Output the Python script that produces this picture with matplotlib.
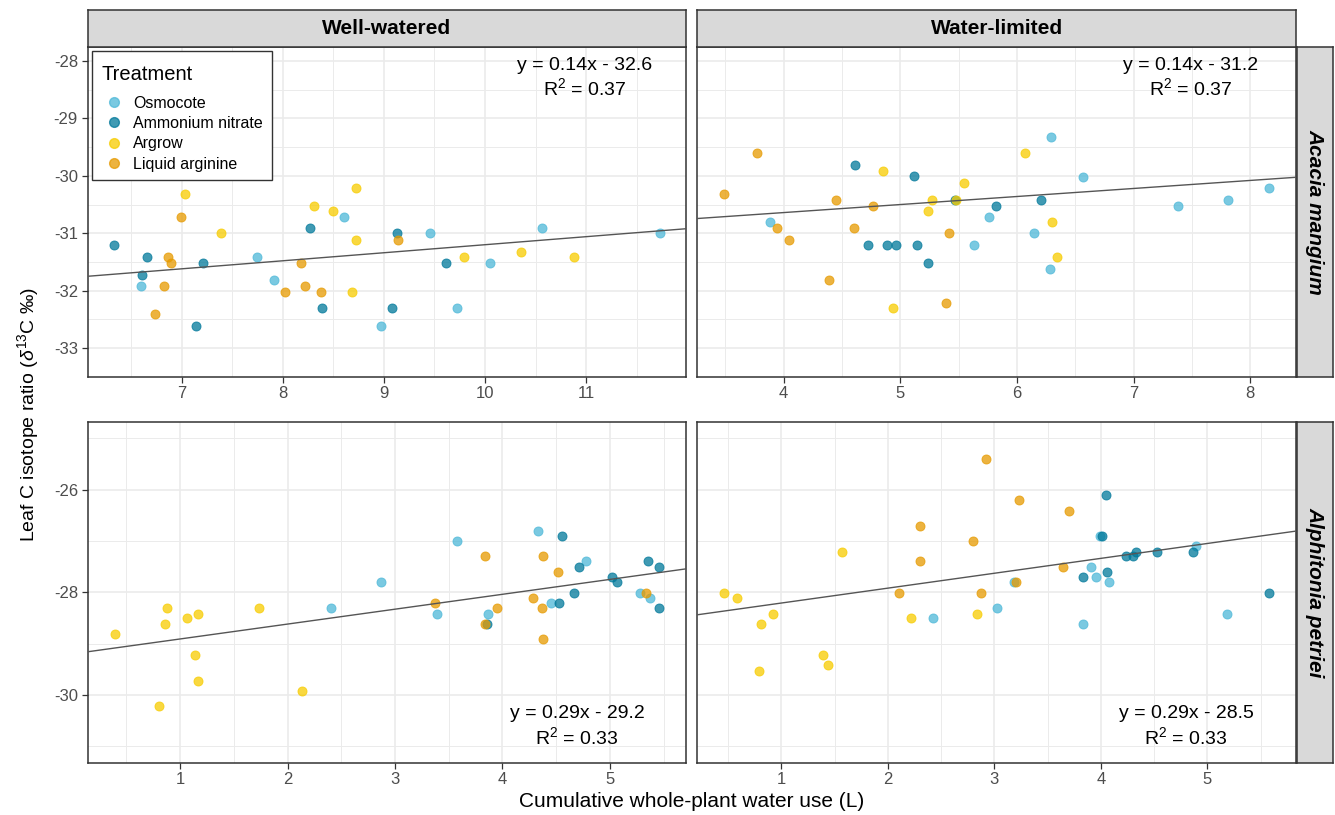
import matplotlib
matplotlib.use("Agg")
from matplotlib import pyplot as plt
from matplotlib.lines import Line2D
from matplotlib.offsetbox import VPacker, DrawingArea
import numpy as np

plt.rcParams['font.family'] = ['Liberation Sans', 'DejaVu Sans']
plt.rcParams['mathtext.fontset'] = 'custom'
plt.rcParams['mathtext.rm'] = 'Liberation Sans'
plt.rcParams['mathtext.it'] = 'Liberation Sans:italic'
plt.rcParams['axes.unicode_minus'] = False

treatments = ['Osmocote', 'Ammonium nitrate', 'Argrow', 'Liquid arginine']
colors = ['#4DB8D8', '#00789A', '#F7CC00', '#E69A00']

columns = ['Well-watered', 'Water-limited']
species = ['Acacia mangium', 'Alphitonia petriei']

# treatment index: 0 Osmocote, 1 Ammonium nitrate, 2 Argrow, 3 Liquid arginine
# Acacia, well-watered
am_ww_x = [6.60, 7.74, 7.91, 8.61, 8.97, 9.46, 9.72, 10.05, 10.56, 11.73,
           6.33, 6.66, 6.61, 7.21, 7.14, 8.27, 8.39, 9.13, 9.08, 9.61,
           7.03, 7.39, 8.31, 8.50, 8.72, 8.72, 8.68, 9.79, 10.36, 10.88,
           6.99, 6.86, 6.89, 6.82, 6.74, 8.18, 8.02, 8.22, 8.38, 9.14]
am_ww_y = [-31.92, -31.42, -31.82, -30.72, -32.61, -31.0, -32.3, -31.51, -30.91, -31.0,
           -31.2, -31.42, -31.72, -31.51, -32.61, -30.91, -32.3, -31.0, -32.3, -31.51,
           -30.32, -31.0, -30.52, -30.62, -30.22, -31.11, -32.02, -31.42, -31.32, -31.42,
           -30.72, -31.42, -31.51, -31.92, -32.41, -31.51, -32.02, -31.92, -32.02, -31.11]
am_ww_t = [0] * 10 + [1] * 10 + [2] * 10 + [3] * 10

# Acacia, water-limited
am_wl_x = [3.88, 5.63, 5.76, 6.29, 6.57, 6.15, 6.28, 7.38, 7.81, 8.16,
           4.61, 5.12, 5.47, 5.82, 4.72, 4.89, 4.96, 5.14, 5.24, 6.21,
           4.85, 5.55, 5.27, 5.24, 4.94, 5.48, 6.07, 6.30, 6.34,
           3.77, 3.49, 3.94, 4.05, 4.45, 4.77, 4.60, 4.39, 5.42, 5.39]
am_wl_y = [-30.81, -31.21, -30.72, -29.32, -30.02, -31.0, -31.62, -30.52, -30.42, -30.22,
           -29.81, -30.01, -30.42, -30.52, -31.21, -31.21, -31.21, -31.21, -31.51, -30.42,
           -29.91, -30.12, -30.42, -30.62, -32.3, -30.42, -29.61, -30.81, -31.42,
           -29.61, -30.32, -30.91, -31.11, -30.42, -30.52, -30.91, -31.82, -31.0, -32.22]
am_wl_t = [0] * 10 + [1] * 10 + [2] * 9 + [3] * 10

# Alphitonia, well-watered
ap_ww_x = [2.40, 2.87, 3.58, 3.39, 3.87, 4.33, 4.78, 4.45, 5.28, 5.37,
           4.55, 4.71, 5.02, 5.07, 4.67, 4.53, 5.35, 5.46, 5.46, 3.86,
           0.39, 0.88, 0.86, 1.06, 1.17, 1.73, 1.14, 1.17, 0.80, 2.13,
           3.84, 4.38, 4.52, 3.37, 3.95, 4.28, 4.37, 3.84, 4.38, 5.34]
ap_ww_y = [-28.31, -27.81, -27.01, -28.42, -28.42, -26.81, -27.40, -28.21, -28.01, -28.11,
           -26.91, -27.50, -27.70, -27.81, -28.01, -28.21, -27.40, -27.50, -28.31, -28.62,
           -28.81, -28.31, -28.62, -28.51, -28.42, -28.31, -29.22, -29.72, -30.21, -29.92,
           -27.29, -27.29, -27.60, -28.21, -28.31, -28.11, -28.31, -28.62, -28.92, -28.01]
ap_ww_t = [0] * 10 + [1] * 10 + [2] * 10 + [3] * 10

# Alphitonia, water-limited
ap_wl_x = [2.42, 3.02, 3.18, 3.83, 3.91, 3.95, 4.08, 3.99, 4.89, 5.18,
           4.05, 4.01, 3.83, 4.06, 4.24, 4.30, 4.33, 4.53, 4.86, 5.58,
           0.46, 0.58, 0.81, 0.92, 0.79, 1.39, 1.44, 1.57, 2.22, 2.84,
           2.92, 2.30, 2.30, 2.80, 2.10, 2.87, 3.23, 3.70, 3.64, 3.20]
ap_wl_y = [-28.51, -28.31, -27.81, -28.62, -27.50, -27.70, -27.81, -26.91, -27.10, -28.42,
           -26.10, -26.91, -27.70, -27.60, -27.29, -27.29, -27.21, -27.21, -27.21, -28.01,
           -28.01, -28.11, -28.62, -28.42, -29.53, -29.22, -29.42, -27.21, -28.51, -28.42,
           -25.40, -26.71, -27.40, -27.01, -28.01, -28.01, -26.20, -26.41, -27.50, -27.81]
ap_wl_t = [0] * 10 + [1] * 10 + [2] * 10 + [3] * 10

# fitted lines as printed on the panels
slopes = [0.14, 0.14, 0.29, 0.29]
intercepts = [-32.6, -31.2, -29.2, -28.5]
eq_labels = ['y = 0.14x - 32.6', 'y = 0.14x - 31.2', 'y = 0.29x - 29.2', 'y = 0.29x - 28.5']
r2_labels = ['0.37', '0.37', '0.33', '0.33']

panel_x = [am_ww_x, am_wl_x, ap_ww_x, ap_wl_x]
panel_y = [am_ww_y, am_wl_y, ap_ww_y, ap_wl_y]
panel_t = [am_ww_t, am_wl_t, ap_ww_t, ap_wl_t]

xlims = [(6.07, 11.99), (3.26, 8.39), (0.14, 5.71), (0.21, 5.83)]
ylims = [(-33.25, -27.76), (-33.25, -27.76), (-31.32, -24.69), (-31.32, -24.69)]
xticks = [[7, 8, 9, 10, 11], [4, 5, 6, 7, 8], [1, 2, 3, 4, 5], [1, 2, 3, 4, 5]]
yticks = [[-33, -32, -31, -30, -29, -28], [-33, -32, -31, -30, -29, -28], [-30, -28, -26], [-30, -28, -26]]

W, H = 1335, 815
fig = plt.figure(figsize=(W / 100, H / 100), dpi=100)

lefts = [87.7, 697.3]
pw = 598.5
tops = [47.3, 422.3]
phs = [329.4, 340.4]
eq_pos = [(0.831, 0.946, 0.876), (0.824, 0.946, 0.876), (0.818, 0.145, 0.076), (0.817, 0.145, 0.076)]
dark = '#333333'

axes = []
for i in range(4):
    r, c = divmod(i, 2)
    ax = fig.add_axes([lefts[c] / W, 1 - (tops[r] + phs[r]) / H, pw / W, phs[r] / H])
    axes.append(ax)
    xs = np.array(panel_x[i])
    ys = np.array(panel_y[i])
    ts = np.array(panel_t[i])
    for k in range(4):
        m = ts == k
        ax.scatter(xs[m], ys[m], s=42, color=colors[k], alpha=0.75,
                   edgecolors=colors[k], linewidths=0.7, zorder=3)
    xl = np.array(xlims[i])
    ax.plot(xl, slopes[i] * xl + intercepts[i], color='#555555', lw=1.0, zorder=4)
    ax.set_xlim(xlims[i])
    ax.set_ylim(ylims[i])
    ax.set_xticks(xticks[i])
    ax.set_yticks(yticks[i])
    step_x = 1.0
    step_y = 1.0 if r == 0 else 2.0
    ax.set_xticks(np.arange(xticks[i][0] - step_x / 2, xlims[i][1], step_x), minor=True)
    ax.set_yticks(np.arange(yticks[i][0] - step_y / 2, ylims[i][1], step_y), minor=True)
    ax.grid(True, which='major', color='#EBEBEB', lw=1.2, zorder=0)
    ax.grid(True, which='minor', color='#EBEBEB', lw=0.7, zorder=0)
    ax.set_axisbelow(True)
    ax.tick_params(which='minor', length=0)
    ax.tick_params(which='major', length=4, width=0.9, color=dark,
                   labelsize=12, labelcolor='#4D4D4D', pad=3)
    if c == 1:
        ax.tick_params(axis='y', which='both', left=False, labelleft=False)
    for sp in ax.spines.values():
        sp.set_color(dark)
        sp.set_linewidth(1.1)
    ex, ey1, ey2 = eq_pos[i]
    ax.text(ex, ey1, eq_labels[i], transform=ax.transAxes, ha='center', va='center', fontsize=14)
    ax.text(ex, ey2, r'R$^2$ = ' + r2_labels[i], transform=ax.transAxes, ha='center', va='center', fontsize=14)

# strips
for c in range(2):
    sax = fig.add_axes([lefts[c] / W, 1 - 47.3 / H, pw / W, 37 / H])
    sax.set_facecolor('#D9D9D9')
    sax.set_xticks([])
    sax.set_yticks([])
    for sp in sax.spines.values():
        sp.set_color(dark)
        sp.set_linewidth(1.1)
    sax.text(0.5, 0.5, columns[c], ha='center', va='center', fontsize=15, fontweight='bold')
for r in range(2):
    sax = fig.add_axes([1296.5 / W, 1 - (tops[r] + phs[r]) / H, 36 / W, phs[r] / H])
    sax.set_facecolor('#D9D9D9')
    sax.set_xticks([])
    sax.set_yticks([])
    for sp in sax.spines.values():
        sp.set_color(dark)
        sp.set_linewidth(1.1)
    sax.text(0.5, 0.5, species[r], ha='center', va='center', rotation=-90,
             fontsize=15, fontweight='bold', style='italic')

handles = [Line2D([], [], marker='o', ls='', markersize=7, color=colors[k], alpha=0.75,
                  markeredgecolor=colors[k]) for k in range(4)]
leg = axes[0].legend(handles, treatments, title='Treatment', loc='upper left',
                     bbox_to_anchor=(0.008, 0.99), borderaxespad=0, fontsize=11.5,
                     title_fontsize=14.5, frameon=True, fancybox=False, labelspacing=0.33,
                     handletextpad=0.41, borderpad=0.55, handlelength=1.6)
# push the title down a little, keep the entries where they are
leg._legend_box._children[0] = VPacker(children=[DrawingArea(1, 4.3), leg._legend_title_box],
                                       pad=0, sep=0, align='left')
leg._legend_box.align = 'left'
leg._legend_box.sep = 8.2
leg.get_frame().set_edgecolor(dark)
leg.get_frame().set_linewidth(1.0)
leg.get_frame().set_alpha(1)

fig.text(28 / W, 0.491, r'Leaf C isotope ratio ($\delta^{13}$C ‰)', rotation=90,
         ha='center', va='center', fontsize=14)
fig.text(692 / W, 0.017, 'Cumulative whole-plant water use (L)', ha='center', va='center', fontsize=15)

plt.savefig('out.png', dpi=100)
